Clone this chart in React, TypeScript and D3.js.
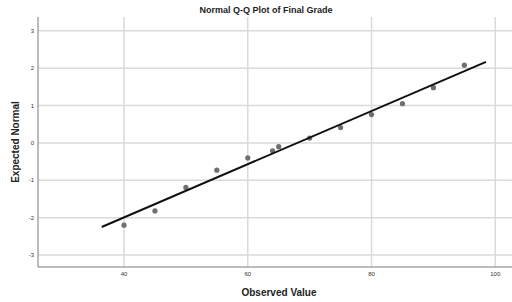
import { useEffect, useRef } from 'react';
import * as d3 from 'd3';

// observed grades and their expected normal values
const observed = [40, 45, 50, 55, 60, 64, 65, 70, 75, 80, 85, 90, 95];
const expected = [-2.2, -1.82, -1.19, -0.73, -0.4, -0.21, -0.1, 0.13, 0.41, 0.76, 1.05, 1.48, 2.08];

// reference line: normal with this mean / sd, drawn between these x values
const lineMean = 68.0;
const lineSd = 14.05;
const lineRange = [36.4, 98.5];

const xTicks = [40, 60, 80, 100];
const yTicks = [-3, -2, -1, 0, 1, 2, 3];

const App = () => {
  const svgRef = useRef<SVGSVGElement | null>(null);

  useEffect(() => {
    const svg = d3.select(svgRef.current);
    svg.selectAll('*').remove();

    const W = 512;
    const H = 302;
    const left = 38;
    const top = 17;
    const bottom = 267;
    const font = '"Liberation Sans", Arial, sans-serif';

    const x = d3.scaleLinear().domain([26.1, 102.7]).range([left, W]);
    const y = d3.scaleLinear().domain([-3.32, 3.37]).range([bottom, top]);

    // gridlines
    svg.append('g')
      .selectAll('line')
      .data(yTicks)
      .enter()
      .append('line')
      .attr('x1', left)
      .attr('x2', W)
      .attr('y1', d => y(d))
      .attr('y2', d => y(d))
      .attr('stroke', '#dadada')
      .attr('stroke-width', 1.5);

    svg.append('g')
      .selectAll('line')
      .data(xTicks)
      .enter()
      .append('line')
      .attr('x1', d => x(d))
      .attr('x2', d => x(d))
      .attr('y1', top)
      .attr('y2', bottom)
      .attr('stroke', '#dadada')
      .attr('stroke-width', 1.5);

    // axis lines
    svg.append('line')
      .attr('x1', left).attr('x2', left)
      .attr('y1', top).attr('y2', bottom)
      .attr('stroke', '#a6a6a6').attr('stroke-width', 1.5);
    svg.append('line')
      .attr('x1', left).attr('x2', W)
      .attr('y1', bottom).attr('y2', bottom)
      .attr('stroke', '#a6a6a6').attr('stroke-width', 1.5);

    // tick labels
    svg.append('g')
      .selectAll('text')
      .data(yTicks)
      .enter()
      .append('text')
      .attr('x', 34)
      .attr('y', d => y(d) + 2)
      .attr('text-anchor', 'end')
      .style('font-family', font)
      .style('font-size', '6px')
      .attr('fill', '#333')
      .text(d => d);

    svg.append('g')
      .selectAll('text')
      .data(xTicks)
      .enter()
      .append('text')
      .attr('x', d => x(d))
      .attr('y', 276)
      .attr('text-anchor', 'middle')
      .style('font-family', font)
      .style('font-size', '6px')
      .attr('fill', '#333')
      .text(d => d);

    // title and axis titles
    svg.append('text')
      .attr('x', 266)
      .attr('y', 13)
      .attr('text-anchor', 'middle')
      .style('font-family', font)
      .style('font-size', '9px')
      .style('font-weight', 'bold')
      .attr('fill', '#222')
      .text('Normal Q-Q Plot of Final Grade');

    svg.append('text')
      .attr('x', 279)
      .attr('y', 296)
      .attr('text-anchor', 'middle')
      .style('font-family', font)
      .style('font-size', '10px')
      .style('font-weight', 'bold')
      .attr('fill', '#222')
      .text('Observed Value');

    svg.append('text')
      .attr('transform', 'rotate(-90)')
      .attr('x', -142)
      .attr('y', 19)
      .attr('text-anchor', 'middle')
      .style('font-family', font)
      .style('font-size', '10px')
      .style('font-weight', 'bold')
      .attr('fill', '#222')
      .text('Expected Normal');

    // points
    svg.append('g')
      .selectAll('circle')
      .data(observed)
      .enter()
      .append('circle')
      .attr('cx', d => x(d))
      .attr('cy', (d, i) => y(expected[i]))
      .attr('r', 2.6)
      .attr('fill', '#6f6f6f');

    // reference line
    const line = d3.line<number>()
      .x(d => x(d))
      .y(d => y((d - lineMean) / lineSd));
    svg.append('path')
      .datum(lineRange)
      .attr('d', line)
      .attr('fill', 'none')
      .attr('stroke', '#111')
      .attr('stroke-width', 2);
  }, []);

  return (
    <svg
      ref={svgRef}
      width={512}
      height={302}
      style={{ position: 'absolute', left: 0, top: 0, background: '#fff' }}
    ></svg>
  );
};

export default App;
